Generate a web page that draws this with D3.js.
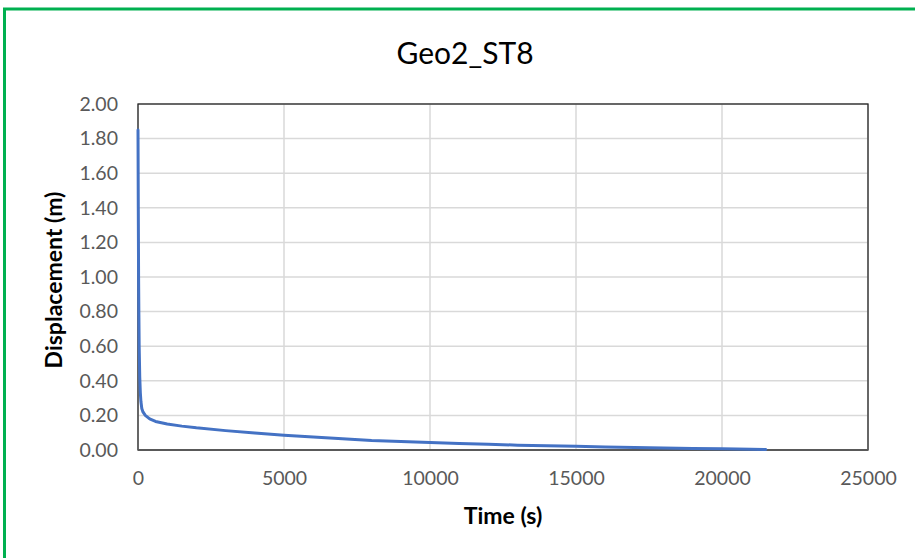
<!DOCTYPE html>
<html><head><meta charset="utf-8">
<script src="https://cdn.jsdelivr.net/npm/d3@7"></script>
<style>body{margin:0;background:#fff;} svg{display:block;font-family:Lato,"Open Sans",sans-serif;}</style>
</head><body>
<svg id="c" width="915" height="558"></svg>
<script>
const title = "Geo2_ST8";
const xLabel = "Time (s)";
const yLabel = "Displacement (m)";
const xTicks = [0, 5000, 10000, 15000, 20000, 25000];
const yTicks = [0, 0.2, 0.4, 0.6, 0.8, 1.0, 1.2, 1.4, 1.6, 1.8, 2.0];
const timeS = [0, 10, 20, 30, 40, 60, 80, 100, 130, 170, 250, 400, 600, 1000, 1500, 2000, 3000, 4000, 5000, 6000, 7000, 8000, 9000, 10000, 11000, 12000, 13000, 14000, 15000, 16000, 17000, 18000, 19000, 20000, 21000, 21500];
const dispM = [1.85, 1.40, 1.00, 0.78, 0.60, 0.42, 0.33, 0.28, 0.24, 0.22, 0.20, 0.18, 0.165, 0.15, 0.138, 0.128, 0.112, 0.098, 0.085, 0.075, 0.065, 0.055, 0.049, 0.044, 0.038, 0.033, 0.028, 0.024, 0.021, 0.017, 0.014, 0.011, 0.009, 0.007, 0.004, 0.003];

const svg = d3.select("#c");
const L = 138, R = 868, T = 104, B = 450;
const x = d3.scaleLinear().domain([0, 25000]).range([L, R]);
const y = d3.scaleLinear().domain([0, 2]).range([B, T]);

// outer green frame
svg.append("rect").attr("x", 4.5).attr("y", 9).attr("width", 960).attr("height", 600)
  .attr("fill", "#fff").attr("stroke", "#00B050").attr("stroke-width", 3);

// gridlines
svg.append("g").selectAll("line.h").data(yTicks).join("line")
  .attr("x1", L).attr("x2", R).attr("y1", d => y(d)).attr("y2", d => y(d))
  .attr("stroke", "#d9d9d9").attr("stroke-width", 1.5);
svg.append("g").selectAll("line.v").data(xTicks).join("line")
  .attr("y1", T).attr("y2", B).attr("x1", d => x(d)).attr("x2", d => x(d))
  .attr("stroke", "#d9d9d9").attr("stroke-width", 1.5);

// plot border
svg.append("rect").attr("x", L).attr("y", T).attr("width", R - L).attr("height", B - T)
  .attr("fill", "none").attr("stroke", "#262626").attr("stroke-width", 1.3);
svg.append("line").attr("x1", L).attr("x2", R).attr("y1", B).attr("y2", B)
  .attr("stroke", "#595959").attr("stroke-width", 2);

// axes via d3
const xAxis = d3.axisBottom(x).tickValues(xTicks).tickSize(0).tickPadding(21).tickFormat(d3.format("d"));
const gx = svg.append("g").attr("transform", `translate(0,${B})`).call(xAxis);
const yAxis = d3.axisLeft(y).tickValues(yTicks).tickSize(0).tickPadding(20).tickFormat(d3.format(".2f"));
const gy = svg.append("g").attr("transform", `translate(${L},0)`).call(yAxis);
[gx, gy].forEach(g => {
  g.select(".domain").remove();
  g.selectAll("text").attr("fill", "#595959").style("font-size", "19.5px").style("font-family", "Lato, sans-serif");
});

// line
const line = d3.line().x((d, i) => x(timeS[i])).y(d => y(d));
svg.append("path").datum(dispM).attr("d", line)
  .attr("fill", "none").attr("stroke", "#4472C4").attr("stroke-width", 3)
  .attr("stroke-linejoin", "round").attr("stroke-linecap", "round");

// title & labels
svg.append("text").attr("x", 465).attr("y", 64).attr("text-anchor", "middle")
  .style("font-size", "30px").attr("fill", "#000").text(title);
svg.append("text").attr("x", 503).attr("y", 524).attr("text-anchor", "middle")
  .style("font-size", "23px").style("font-weight", "bold").attr("fill", "#000").text(xLabel);
svg.append("text").attr("transform", "translate(62,280) rotate(-90)").attr("text-anchor", "middle")
  .style("font-size", "23px").style("font-weight", "bold").attr("fill", "#000").text(yLabel);
</script>
</body></html>
